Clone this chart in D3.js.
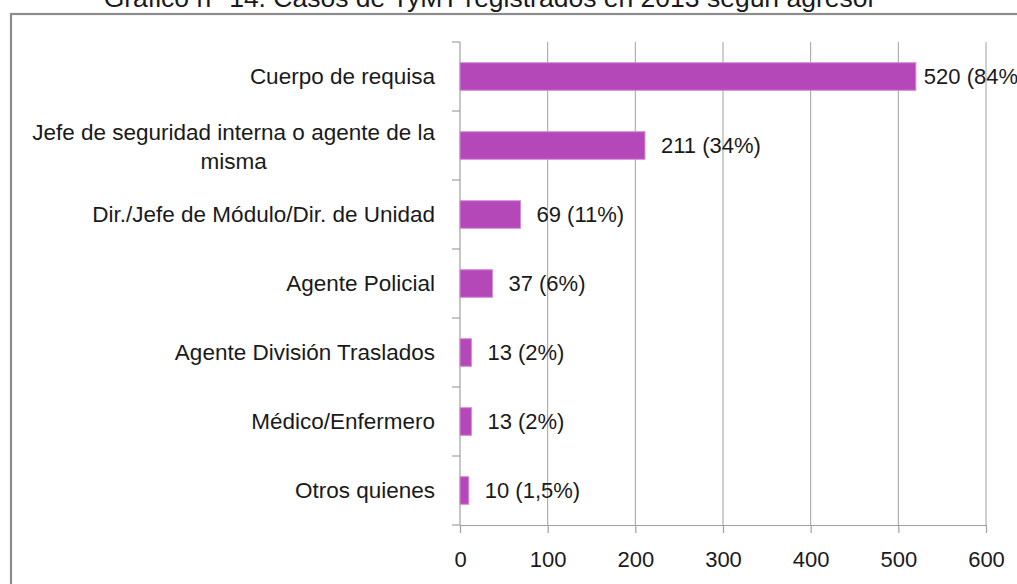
<!DOCTYPE html>
<html lang="es">
  <head>
    <meta charset="utf-8">
    <title>Gráfico n° 14</title>
    <style type="text/css">
    body { margin: 0; background: #fff; }
    text { font-family: "Liberation Sans", Arial, sans-serif; fill: #1a1a1a; }
    .grid line { stroke: #a0a0a0; stroke-width: 1; }
    .axis path, .axis line { stroke: #a0a0a0; stroke-width: 1.2; }
    .bar { fill: #b448b9; stroke: #d58ad8; stroke-width: 1; }
    </style>
  </head>
  <body>
    <script src="https://d3js.org/d3.v7.min.js"></script>
    <div id="chart"></div>
    <script type="text/javascript">

    // datos del gráfico
    var categorias = [
      "Cuerpo de requisa",
      "Jefe de seguridad interna o agente de la misma",
      "Dir./Jefe de Módulo/Dir. de Unidad",
      "Agente Policial",
      "Agente División Traslados",
      "Médico/Enfermero",
      "Otros quienes"
    ];
    var casos = [520, 211, 69, 37, 13, 13, 10];
    var porcentajes = ["84%", "34%", "11%", "6%", "2%", "2%", "1,5%"];
    var ticksX = [0, 100, 200, 300, 400, 500, 600];
    var titulo = "Gráfico n° 14. Casos de TyMT registrados en 2013 según agresor";

    var width = 1017,
        height = 584,
        margin = {top: 42, left: 460, right: 31, bottom: 59};

    var svg = d3.select("#chart")
        .append("svg")
        .attr("width", width)
        .attr("height", height);

    // marco del gráfico (se sale por la derecha y por abajo)
    svg.append("rect")
        .attr("x", 11)
        .attr("y", 14)
        .attr("width", width + 20)
        .attr("height", height + 20)
        .attr("fill", "none")
        .attr("stroke", "#8c8c8c")
        .attr("stroke-width", 2.2);

    // título, cortado arriba
    svg.append("text")
        .attr("x", 490)
        .attr("y", 7)
        .attr("text-anchor", "middle")
        .style("font-size", "26.5px")
        .text(titulo);

    var x = d3.scaleLinear()
        .domain([0, 600])
        .range([margin.left, width - margin.right]);

    var y = d3.scaleBand()
        .domain(categorias)
        .range([margin.top, height - margin.bottom])
        .paddingInner(0.6)
        .paddingOuter(0.3);

    // líneas verticales de la cuadrícula
    svg.append("g")
        .attr("class", "grid")
        .selectAll("line")
        .data(ticksX.slice(1))
        .enter()
        .append("line")
        .attr("x1", function(d) { return x(d); })
        .attr("x2", function(d) { return x(d); })
        .attr("y1", margin.top)
        .attr("y2", height - margin.bottom);

    // eje X
    var ejeX = svg.append("g")
        .attr("class", "axis")
        .attr("transform", "translate(0," + (height - margin.bottom) + ")")
        .call(d3.axisBottom(x).tickValues(ticksX).tickSize(8).tickSizeOuter(0).tickPadding(18));
    ejeX.selectAll("text").style("font-size", "22px").attr("fill", "#1a1a1a");

    // eje Y: línea con marcas entre categorías
    var ejeY = svg.append("g").attr("class", "axis");
    ejeY.append("line")
        .attr("x1", margin.left).attr("x2", margin.left)
        .attr("y1", margin.top).attr("y2", height - margin.bottom);
    var paso = y.step();
    ejeY.selectAll(".marca")
        .data(d3.range(categorias.length + 1))
        .enter()
        .append("line")
        .attr("class", "marca")
        .attr("x1", margin.left - 8)
        .attr("x2", margin.left)
        .attr("y1", function(i) { return margin.top + i * paso; })
        .attr("y2", function(i) { return margin.top + i * paso; });

    // etiquetas de categoría (con salto de línea si no caben)
    var anchoMax = 412;
    var etiquetas = svg.append("g")
        .selectAll("text")
        .data(categorias)
        .enter()
        .append("text")
        .style("font-size", "22.5px")
        .attr("text-anchor", "end")
        .attr("x", margin.left - 25)
        .attr("y", function(d) { return y(d) + y.bandwidth() / 2; })
        .attr("dy", "0.35em")
        .text(function(d) { return d; });

    etiquetas.each(function(d) {
      var t = d3.select(this);
      if (this.getComputedTextLength() <= anchoMax) return;
      var palabras = d.split(" "), lineas = [], actual = [];
      t.text(null);
      var prueba = t.append("tspan");
      palabras.forEach(function(p) {
        actual.push(p);
        prueba.text(actual.join(" "));
        if (prueba.node().getComputedTextLength() > anchoMax && actual.length > 1) {
          actual.pop();
          lineas.push(actual.join(" "));
          actual = [p];
        }
      });
      lineas.push(actual.join(" "));
      prueba.remove();
      var cy = y(d) + y.bandwidth() / 2;
      var spans = lineas.map(function(l) { return t.append("tspan").text(l); });
      var w = d3.max(spans, function(s) { return s.node().getComputedTextLength(); });
      spans.forEach(function(s, i) {
        s.attr("text-anchor", "middle")
          .attr("x", margin.left - 25 - w / 2)
          .attr("y", cy + (i - (lineas.length - 1) / 2) * 29 + 1)
          .attr("dy", "0.35em");
      });
    });

    // barras
    svg.append("g")
        .selectAll(".bar")
        .data(casos)
        .enter()
        .append("rect")
        .attr("class", "bar")
        .attr("x", x(0))
        .attr("y", function(d, i) { return y(categorias[i]); })
        .attr("width", function(d) { return x(d) - x(0); })
        .attr("height", y.bandwidth());

    // etiquetas de valor
    svg.append("g")
        .selectAll("text")
        .data(casos)
        .enter()
        .append("text")
        .style("font-size", "22px")
        .attr("x", function(d) { return x(d) + (d > 500 ? 8 : 16); })
        .attr("y", function(d, i) { return y(categorias[i]) + y.bandwidth() / 2; })
        .attr("dy", "0.35em")
        .text(function(d, i) { return d + " (" + porcentajes[i] + ")"; });

    </script>
  </body>
</html>
